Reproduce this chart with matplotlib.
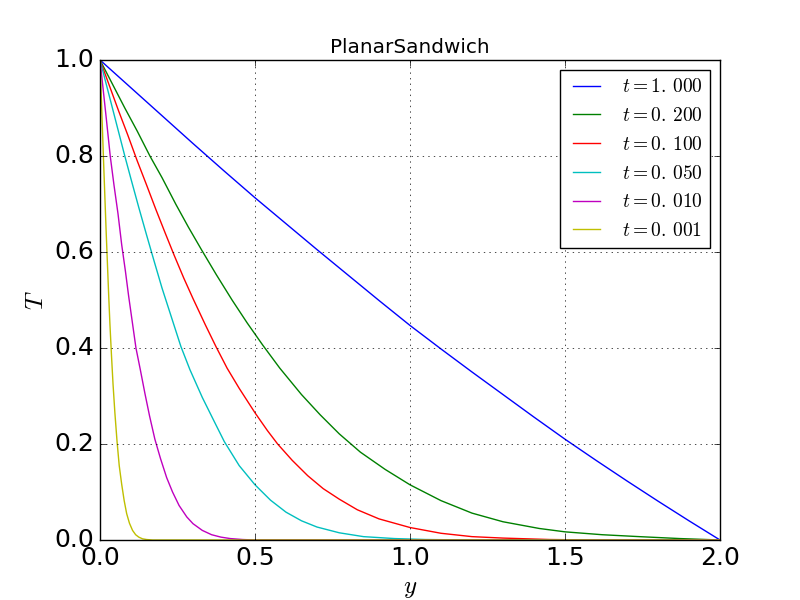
import matplotlib
matplotlib.use("Agg")
import matplotlib.pyplot as plt

plt.style.use("classic")
plt.rcParams["mathtext.fontset"] = "cm"

# readings, one list pair per curve
labels = [r"$t=1.\,000$", r"$t=0.\,200$", r"$t=0.\,100$",
          r"$t=0.\,050$", r"$t=0.\,010$", r"$t=0.\,001$"]

y_t1000 = [0.0, 0.1, 0.2, 0.3, 0.4, 0.5, 0.6, 0.7, 0.8, 0.9, 1.0,
           1.1, 1.2, 1.3, 1.4, 1.5, 1.6, 1.7, 1.8, 1.9, 2.0]
T_t1000 = [1.0, 0.942, 0.884, 0.826, 0.769, 0.713, 0.659, 0.605, 0.552, 0.499, 0.447,
           0.398, 0.350, 0.303, 0.256, 0.21, 0.166, 0.123, 0.081, 0.040, 0.0]

y_t0200 = [0.0, 0.04, 0.08, 0.12, 0.161, 0.20, 0.245, 0.285, 0.328, 0.375, 0.426,
           0.475, 0.525, 0.58, 0.65, 0.71, 0.772, 0.84, 0.92, 1.0, 1.1, 1.2,
           1.3, 1.417, 1.5, 1.62, 1.74, 1.87, 2.0]
T_t0200 = [1.0, 0.95, 0.90, 0.852, 0.80, 0.755, 0.699, 0.652, 0.604, 0.553, 0.50,
           0.452, 0.406, 0.358, 0.303, 0.261, 0.221, 0.183, 0.147, 0.115, 0.082, 0.056,
           0.038, 0.024, 0.017, 0.011, 0.007, 0.003, 0.0]

y_t0100 = [0.0, 0.03, 0.06, 0.09, 0.12, 0.15, 0.18, 0.21, 0.24, 0.27, 0.30,
           0.34, 0.374, 0.41, 0.449, 0.5, 0.54, 0.573, 0.62, 0.67, 0.72, 0.772,
           0.83, 0.9, 1.0, 1.1, 1.2, 1.3, 1.45, 1.6, 2.0]
T_t0100 = [1.0, 0.947, 0.894, 0.843, 0.79, 0.74, 0.689, 0.64, 0.592, 0.546, 0.503,
           0.448, 0.403, 0.358, 0.316, 0.265, 0.228, 0.20, 0.166, 0.134, 0.107, 0.085,
           0.063, 0.044, 0.026, 0.014, 0.007, 0.004, 0.001, 0.0, 0.0]

y_t0050 = [0.0, 0.02, 0.04, 0.06, 0.08, 0.10, 0.125, 0.15, 0.175, 0.2, 0.23,
           0.261, 0.29, 0.33, 0.37, 0.401, 0.449, 0.5, 0.55, 0.6, 0.65, 0.7,
           0.772, 0.85, 0.95, 1.05, 1.2, 2.0]
T_t0050 = [1.0, 0.95, 0.90, 0.85, 0.80, 0.752, 0.693, 0.636, 0.58, 0.525, 0.465,
           0.403, 0.355, 0.297, 0.245, 0.205, 0.155, 0.115, 0.083, 0.058, 0.04, 0.027,
           0.015, 0.007, 0.003, 0.001, 0.0, 0.0]

y_t0010 = [0.0, 0.01, 0.02, 0.033, 0.045, 0.058, 0.07, 0.082, 0.092, 0.104, 0.116,
           0.13, 0.145, 0.16, 0.177, 0.195, 0.215, 0.234, 0.255, 0.28, 0.30,
           0.33, 0.36, 0.39, 0.42, 0.46, 0.5, 2.0]
T_t0010 = [1.0, 0.94, 0.88, 0.80, 0.74, 0.68, 0.615, 0.56, 0.51, 0.455, 0.40,
           0.355, 0.305, 0.258, 0.21, 0.17, 0.13, 0.10, 0.072, 0.048, 0.034,
           0.02, 0.011, 0.006, 0.003, 0.001, 0.0, 0.0]

y_t0001 = [0.0, 0.003, 0.006, 0.009, 0.012, 0.016, 0.02, 0.024, 0.028, 0.032, 0.037,
           0.042, 0.048, 0.055, 0.062, 0.07, 0.078, 0.086, 0.095, 0.105, 0.115,
           0.125, 0.137, 0.15, 0.17, 2.0]
T_t0001 = [1.0, 0.945, 0.89, 0.835, 0.78, 0.71, 0.64, 0.575, 0.51, 0.45, 0.385,
           0.325, 0.265, 0.205, 0.155, 0.116, 0.082, 0.055, 0.035, 0.02, 0.011,
           0.006, 0.0025, 0.001, 0.0, 0.0]

curves = [
    (y_t1000, T_t1000),
    (y_t0200, T_t0200),
    (y_t0100, T_t0100),
    (y_t0050, T_t0050),
    (y_t0010, T_t0010),
    (y_t0001, T_t0001),
]

fig = plt.figure(figsize=(8, 6), dpi=100)
ax = fig.add_subplot(111)

for (yy, TT), lab in zip(curves, labels):
    ax.plot(yy, TT, label=lab)

ax.set_xlim(0.0, 2.0)
ax.set_ylim(0.0, 1.0)
ax.set_xticks([0.0, 0.5, 1.0, 1.5, 2.0])
ax.set_yticks([0.0, 0.2, 0.4, 0.6, 0.8, 1.0])
ax.tick_params(labelsize=18)
ax.grid(True)

ax.set_xlabel("$y$", fontsize=18)
ax.set_ylabel("$T$", fontsize=18)
ax.set_title("PlanarSandwich", fontsize=14.4)
ax.legend(loc="upper right", fontsize=14)

fig.savefig("out.png", dpi=100)
